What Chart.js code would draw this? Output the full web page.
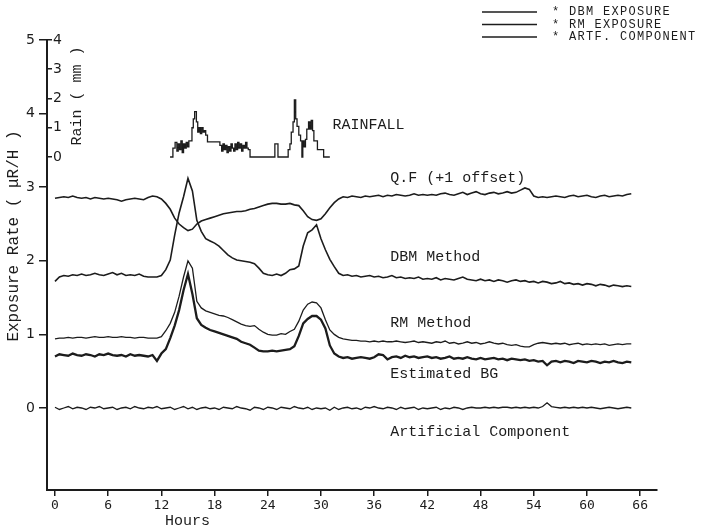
<!DOCTYPE html>
<html>
<head>
<meta charset="utf-8">
<script src="https://cdn.jsdelivr.net/npm/chart.js@4.4.1/dist/chart.umd.min.js"></script>
<style>
  html, body { margin: 0; padding: 0; background: #fff; }
  #wrap { width: 702px; height: 531px; }
</style>
</head>
<body>
<div id="wrap"><canvas id="chartExposure"></canvas></div>
<script>
// hours since start, 0.5 h steps
const hours = [
  0, 0.5, 1, 1.5, 2, 2.5, 3, 3.5, 4, 4.5, 5, 5.5,
  6, 6.5, 7, 7.5, 8, 8.5, 9, 9.5, 10, 10.5, 11, 11.5,
  12, 12.5, 13, 13.5, 14, 14.5, 15, 15.5, 16, 16.5, 17, 17.5,
  18, 18.5, 19, 19.5, 20, 20.5, 21, 21.5, 22, 22.5, 23, 23.5,
  24, 24.5, 25, 25.5, 26, 26.5, 27, 27.5, 28, 28.5, 29, 29.5,
  30, 30.5, 31, 31.5, 32, 32.5, 33, 33.5, 34, 34.5, 35, 35.5,
  36, 36.5, 37, 37.5, 38, 38.5, 39, 39.5, 40, 40.5, 41, 41.5,
  42, 42.5, 43, 43.5, 44, 44.5, 45, 45.5, 46, 46.5, 47, 47.5,
  48, 48.5, 49, 49.5, 50, 50.5, 51, 51.5, 52, 52.5, 53, 53.5,
  54, 54.5, 55, 55.5, 56, 56.5, 57, 57.5, 58, 58.5, 59, 59.5,
  60, 60.5, 61, 61.5, 62, 62.5, 63, 63.5, 64, 64.5, 65
];

// Q.F (+1 offset)
const qfOffset = [
  2.85, 2.86, 2.87, 2.86, 2.88, 2.86, 2.85, 2.86, 2.84, 2.86, 2.85, 2.84,
  2.85, 2.84, 2.83, 2.81, 2.83, 2.84, 2.85, 2.84, 2.83, 2.86, 2.88, 2.87,
  2.84, 2.78, 2.70, 2.58, 2.50, 2.45, 2.41, 2.43, 2.50, 2.54, 2.56, 2.58,
  2.60, 2.62, 2.64, 2.65, 2.66, 2.67, 2.67, 2.68, 2.70, 2.71, 2.73, 2.75,
  2.77, 2.78, 2.78, 2.77, 2.77, 2.78, 2.76, 2.75, 2.68, 2.60, 2.56, 2.55,
  2.57, 2.64, 2.72, 2.79, 2.84, 2.87, 2.86, 2.88, 2.87, 2.86, 2.88, 2.87,
  2.88, 2.89, 2.87, 2.89, 2.88, 2.90, 2.89, 2.88, 2.89, 2.91, 2.89, 2.90,
  2.89, 2.90, 2.89, 2.91, 2.92, 2.90, 2.89, 2.91, 2.93, 2.90, 2.92, 2.94,
  2.91, 2.90, 2.92, 2.93, 2.91, 2.92, 2.94, 2.92, 2.93, 2.96, 2.99, 2.97,
  2.88, 2.86, 2.87, 2.86, 2.87, 2.88, 2.87, 2.86, 2.88, 2.89, 2.87, 2.88,
  2.89, 2.87, 2.86, 2.88, 2.89, 2.87, 2.88, 2.89, 2.88, 2.90, 2.91
];

const dbmMethod = [
  1.72, 1.78, 1.80, 1.79, 1.81, 1.80, 1.82, 1.80, 1.81, 1.83, 1.81, 1.80,
  1.82, 1.84, 1.81, 1.83, 1.80, 1.81, 1.80, 1.82, 1.79, 1.78, 1.78, 1.78,
  1.80, 1.88, 2.01, 2.35, 2.65, 2.87, 3.12, 2.95, 2.55, 2.40, 2.30, 2.27,
  2.24, 2.20, 2.14, 2.08, 2.04, 2.01, 2.00, 1.99, 1.98, 1.96, 1.90, 1.83,
  1.81, 1.80, 1.82, 1.80, 1.83, 1.88, 1.89, 1.93, 2.20, 2.38, 2.42, 2.49,
  2.30, 2.15, 2.02, 1.92, 1.83, 1.80, 1.81, 1.79, 1.80, 1.78, 1.79, 1.80,
  1.78, 1.79, 1.77, 1.78, 1.80, 1.77, 1.78, 1.76, 1.77, 1.76, 1.78, 1.75,
  1.76, 1.75, 1.77, 1.74, 1.76, 1.75, 1.74, 1.76, 1.78, 1.75, 1.74, 1.73,
  1.75, 1.73, 1.74, 1.72, 1.74, 1.73, 1.71, 1.73, 1.74, 1.72, 1.73, 1.71,
  1.72, 1.70, 1.72, 1.71, 1.69, 1.70, 1.72, 1.69, 1.70, 1.68, 1.69, 1.67,
  1.69, 1.68, 1.66, 1.68, 1.67, 1.65, 1.67, 1.66, 1.65, 1.66, 1.65
];

const rmMethod = [
  0.94, 0.95, 0.95, 0.96, 0.95, 0.96, 0.96, 0.95, 0.96, 0.97, 0.96, 0.96,
  0.97, 0.96, 0.96, 0.97, 0.96, 0.96, 0.95, 0.96, 0.96, 0.95, 0.95, 0.95,
  0.97, 1.05, 1.15, 1.30, 1.52, 1.78, 2.00, 1.90, 1.45, 1.36, 1.32, 1.30,
  1.28, 1.26, 1.25, 1.23, 1.20, 1.17, 1.14, 1.12, 1.11, 1.12, 1.07, 1.03,
  1.00, 0.99, 0.99, 1.01, 1.00, 1.04, 1.07, 1.18, 1.33, 1.41, 1.44, 1.43,
  1.36, 1.20, 1.06, 1.00, 0.96, 0.94, 0.93, 0.92, 0.92, 0.91, 0.91, 0.90,
  0.91, 0.90, 0.91, 0.90, 0.90, 0.91, 0.90, 0.89, 0.90, 0.91, 0.89, 0.90,
  0.89, 0.88, 0.90, 0.89, 0.91, 0.88, 0.89, 0.87, 0.88, 0.90, 0.88, 0.89,
  0.87, 0.88, 0.90, 0.88, 0.87, 0.88, 0.86, 0.85, 0.86, 0.84, 0.83, 0.83,
  0.86, 0.88, 0.89, 0.88, 0.87, 0.88, 0.87, 0.88, 0.86, 0.87, 0.88, 0.86,
  0.87, 0.86, 0.87, 0.86, 0.87, 0.85, 0.86, 0.87, 0.86, 0.87, 0.87
];

const estimatedBg = [
  0.70, 0.73, 0.72, 0.71, 0.74, 0.72, 0.71, 0.73, 0.72, 0.70, 0.73, 0.72,
  0.74, 0.72, 0.71, 0.72, 0.70, 0.73, 0.71, 0.72, 0.71, 0.70, 0.72, 0.64,
  0.74, 0.80, 0.95, 1.12, 1.33, 1.60, 1.82, 1.55, 1.22, 1.13, 1.09, 1.06,
  1.04, 1.02, 1.00, 0.98, 0.96, 0.94, 0.90, 0.88, 0.86, 0.82, 0.78, 0.77,
  0.77, 0.78, 0.77, 0.78, 0.79, 0.80, 0.84, 0.98, 1.15, 1.21, 1.25, 1.25,
  1.20, 1.08, 0.85, 0.74, 0.70, 0.68, 0.69, 0.67, 0.68, 0.69, 0.68, 0.67,
  0.69, 0.73, 0.72, 0.66, 0.69, 0.70, 0.68, 0.71, 0.69, 0.70, 0.68, 0.69,
  0.70, 0.68, 0.69, 0.67, 0.68, 0.70, 0.67, 0.68, 0.67, 0.69, 0.67, 0.66,
  0.68, 0.66, 0.67, 0.68, 0.66, 0.67, 0.65, 0.67, 0.66, 0.65, 0.66, 0.64,
  0.65, 0.63, 0.64, 0.58, 0.63, 0.64, 0.62, 0.64, 0.63, 0.61, 0.64, 0.63,
  0.62, 0.64, 0.63, 0.61, 0.63, 0.62, 0.64, 0.62, 0.61, 0.63, 0.62
];

const artificialComp = [
  0.01, -0.02, 0.00, 0.02, -0.01, 0.01, 0.00, -0.02, 0.01, 0.00, 0.02, -0.01,
  0.00, 0.01, -0.02, 0.00, 0.01, -0.01, 0.02, 0.00, -0.01, 0.01, 0.00, 0.02,
  -0.01, 0.00, 0.01, -0.02, 0.00, 0.02, -0.01, 0.01, -0.02, 0.00, 0.01, -0.01,
  0.00, -0.02, 0.01, 0.00, -0.01, 0.02, 0.00, -0.01, -0.03, 0.01, 0.00, -0.02,
  0.01, 0.00, -0.02, 0.01, 0.00, -0.01, 0.02, 0.00, -0.01, 0.01, -0.02, 0.00,
  -0.01, 0.00, -0.03, 0.01, -0.02, 0.00, 0.01, -0.01, 0.00, -0.02, 0.01, 0.00,
  0.02, 0.00, -0.01, 0.01, 0.00, -0.02, 0.01, -0.01, 0.00, 0.01, -0.02, 0.00,
  -0.01, 0.00, 0.01, -0.02, 0.00, -0.01, 0.01, 0.00, -0.02, 0.00, 0.01, 0.00,
  0.00, 0.01, 0.00, 0.01, 0.00, 0.01, 0.01, 0.00, 0.01, 0.00, 0.01, 0.00,
  0.01, 0.00, 0.02, 0.07, 0.02, 0.01, 0.00, 0.01, 0.00, 0.01, 0.00, 0.01,
  0.00, 0.01, 0.00, -0.01, 0.00, 0.01, 0.00, -0.01, 0.00, 0.01, 0.00
];

// rainfall, mm (each value holds until the next hour mark)
const rainHours = [
  12.98, 13.3, 13.55, 13.75, 13.9, 14.05, 14.2, 14.35, 14.5, 14.65, 14.8, 14.95,
  15.1, 15.45, 15.6, 15.75, 15.95, 16.1, 16.25, 16.4, 16.55, 16.7, 16.85, 17.0,
  17.2, 18.6, 18.8, 18.95, 19.1, 19.25, 19.4, 19.55, 19.7, 19.85, 20.0, 20.15,
  20.3, 20.45, 20.6, 20.75, 20.9, 21.05, 21.2, 21.35, 21.5, 21.65, 21.8, 22.0,
  24.8, 25.15, 26.3, 26.5, 26.65, 26.85, 27.0, 27.15, 27.3, 27.5, 27.7, 27.85,
  27.95, 28.1, 28.25, 28.4, 28.6, 28.75, 28.9, 29.05, 29.2, 29.6, 30.3, 31.0
];
const rainMm = [
  0, 0.3, 0.5, 0.2, 0.45, 0.25, 0.55, 0.15, 0.45, 0.3, 0.5, 0.35,
  0.55, 1.0, 1.3, 1.55, 1.2, 0.85, 1.0, 0.8, 1.0, 0.85, 0.9, 0.75,
  0.52, 0.4, 0.2, 0.45, 0.25, 0.4, 0.15, 0.35, 0.2, 0.45, 0.3, 0.2,
  0.45, 0.25, 0.5, 0.3, 0.45, 0.2, 0.4, 0.3, 0.5, 0.3, 0.25, 0,
  0.45, 0, 0.25, 0.45, 0.85, 1.2, 1.95, 1.3, 1.05, 0.75, 0.55, 0,
  0.55, 0.35, 0.6, 0.95, 1.2, 0.95, 1.25, 0.9, 0.55, 0.25, 0, 0
];

const xTickValues = [0, 6, 12, 18, 24, 30, 36, 42, 48, 54, 60, 66];
const yTickValues = [0, 1, 2, 3, 4, 5];
const rainTickValues = [0, 1, 2, 3, 4];
const legendLabels = ['* DBM EXPOSURE', '* RM EXPOSURE', '* ARTF. COMPONENT'];

const ink = '#1c1c1c';
const mono = '"Liberation Mono", "DejaVu Sans Mono", monospace';

function pairs(xs, ys) {
  return xs.map((h, i) => ({ x: h, y: ys[i] }));
}

function line(label, values, width) {
  return {
    label: label,
    data: pairs(hours, values),
    borderColor: ink,
    borderWidth: width,
    pointRadius: 0,
    tension: 0,
    fill: false,
    yAxisID: 'y'
  };
}

// free text, axis titles and the small legend block
const notesPlugin = {
  id: 'notes',
  afterDraw(chart) {
    const ctx = chart.ctx;
    const x = chart.scales.x;
    const y = chart.scales.y;
    ctx.save();
    ctx.fillStyle = ink;
    ctx.textBaseline = 'middle';
    ctx.textAlign = 'left';
    ctx.font = '15px ' + mono;

    const left = x.getPixelForValue(37.8);
    ctx.fillText('RAINFALL', x.getPixelForValue(31.3), y.getPixelForValue(3.85));
    ctx.fillText('Q.F (+1 offset)', left, y.getPixelForValue(3.13));
    ctx.fillText('DBM Method', left, y.getPixelForValue(2.05));
    ctx.fillText('RM Method', left, y.getPixelForValue(1.15));
    ctx.fillText('Estimated BG', left, y.getPixelForValue(0.46));
    ctx.fillText('Artificial Component', left, y.getPixelForValue(-0.33));

    ctx.fillText('Hours', 165, 521);

    ctx.textAlign = 'center';
    ctx.save();
    ctx.translate(14, 236);
    ctx.rotate(-Math.PI / 2);
    ctx.font = '16px ' + mono;
    ctx.fillText('Exposure Rate ( \u03bcR/H )', 0, 0);
    ctx.restore();

    ctx.save();
    ctx.translate(77, 96);
    ctx.rotate(-Math.PI / 2);
    ctx.fillText('Rain ( mm )', 0, 0);
    ctx.restore();

    // legend
    const sets = [1, 2, 4].map(i => chart.data.datasets[i]);
    ctx.textAlign = 'left';
    ctx.font = '12px ' + mono;
    ctx.letterSpacing = '1.3px';
    sets.forEach((ds, i) => {
      const ly = 12 + i * 12.5;
      ctx.strokeStyle = ds.borderColor;
      ctx.lineWidth = ds.borderWidth;
      ctx.beginPath();
      ctx.moveTo(482, ly);
      ctx.lineTo(537, ly);
      ctx.stroke();
      ctx.fillText(legendLabels[i], 552, ly);
    });
    ctx.restore();
  }
};

const ctx1 = document.getElementById('chartExposure').getContext('2d');

new Chart(ctx1, {
  type: 'line',
  data: {
    datasets: [
      line('Q.F (+1 offset)', qfOffset, 1.6),
      line('DBM Method', dbmMethod, 1.6),
      line('RM Method', rmMethod, 1.3),
      line('Estimated BG', estimatedBg, 2.3),
      line('Artificial Component', artificialComp, 1.3),
      {
        label: 'Rainfall',
        data: pairs(rainHours, rainMm),
        borderColor: ink,
        borderWidth: 1.3,
        pointRadius: 0,
        stepped: true,
        fill: false,
        yAxisID: 'rain'
      }
    ]
  },
  options: {
    responsive: true,
    maintainAspectRatio: false,
    animation: false,
    layout: { padding: { top: 40, right: 45, left: 0, bottom: 0 } },
    plugins: {
      legend: { display: false },
      tooltip: { enabled: false }
    },
    scales: {
      x: {
        type: 'linear',
        min: -0.9,
        max: 67.9,
        afterBuildTicks: s => { s.ticks = xTickValues.map(v => ({ value: v })); },
        afterFit: s => { s.height = 41; },
        border: { display: true, color: ink, width: 2 },
        grid: { display: true, drawOnChartArea: false, drawTicks: true, tickLength: 6, color: ink, lineWidth: 1.5 },
        ticks: {
          color: ink,
          padding: 2,
          maxRotation: 0,
          autoSkip: false,
          font: { size: 13, family: '"DejaVu Sans Mono", monospace' }
        }
      },
      y: {
        type: 'linear',
        position: 'left',
        weight: 1,
        min: -1.114,
        max: 5,
        afterBuildTicks: s => { s.ticks = yTickValues.map(v => ({ value: v })); },
        afterFit: s => { s.width = 47; },
        border: { display: true, color: ink, width: 2 },
        grid: { display: true, drawOnChartArea: false, drawTicks: true, tickLength: 8, color: ink, lineWidth: 1.5 },
        ticks: {
          color: ink,
          padding: 4,
          font: { size: 14, family: '"DejaVu Sans", sans-serif' }
        }
      },
      rain: {
        type: 'linear',
        position: 'left',
        weight: 0,
        min: -11.385,
        max: 4,
        afterBuildTicks: s => { s.ticks = rainTickValues.map(v => ({ value: v })); },
        afterFit: s => { s.width = 0; },
        border: { display: false },
        grid: { display: true, drawOnChartArea: false, drawTicks: true, tickLength: -5, color: ink, lineWidth: 1.5 },
        ticks: {
          mirror: true,
          color: ink,
          padding: 6,
          font: { size: 14, family: '"DejaVu Sans", sans-serif' }
        }
      }
    }
  },
  plugins: [notesPlugin]
});
</script>
</body>
</html>
